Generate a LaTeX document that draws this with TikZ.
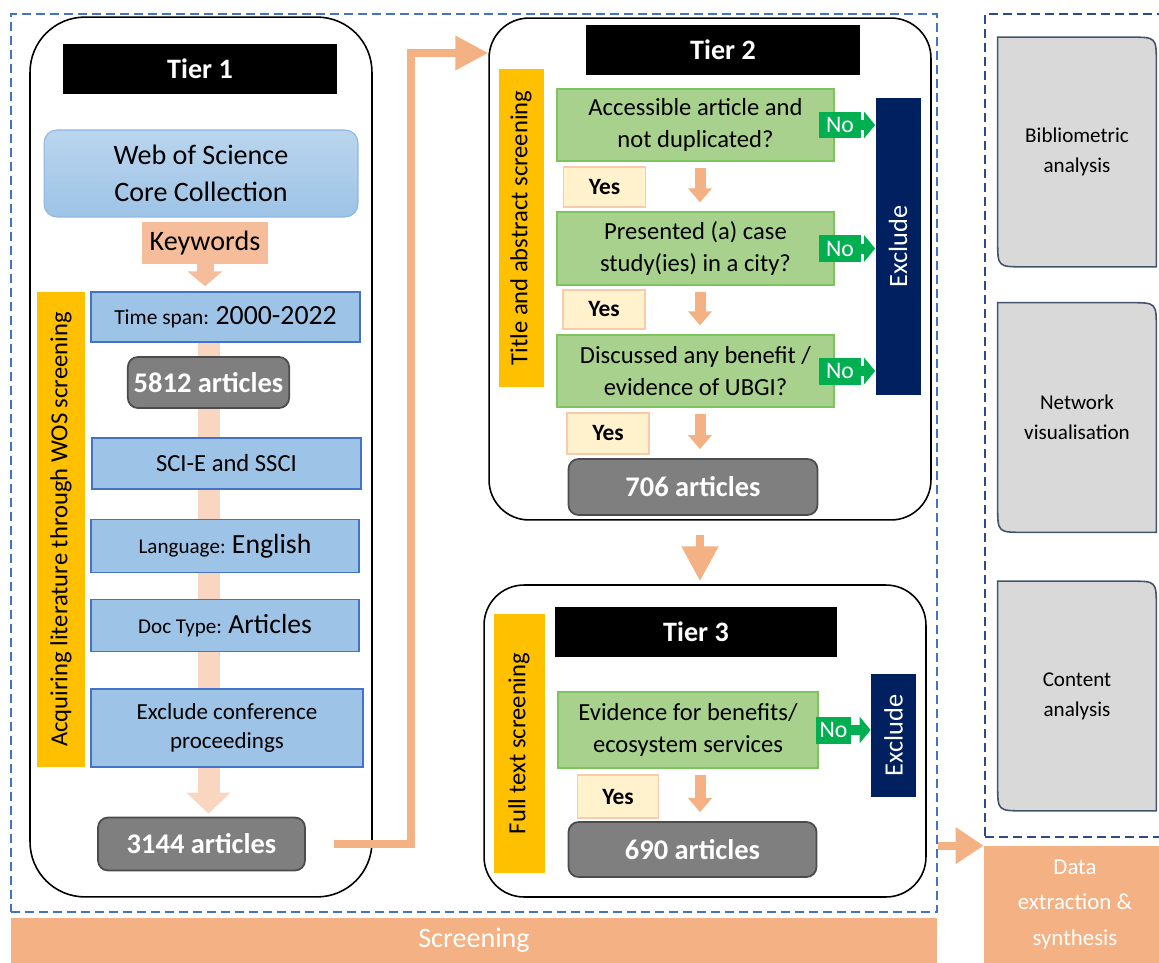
\documentclass[tikz,border=0pt]{standalone}
\usepackage{fontspec}
\setmainfont{Carlito}
\usetikzlibrary{arrows.meta,backgrounds,calc}
\definecolor{peach}{HTML}{F4B183}
\definecolor{bandPeach}{HTML}{F9D6BF}
\definecolor{kwPeach}{HTML}{F6BD9A}
\definecolor{filterBlue}{HTML}{9DC3E6}
\definecolor{filterLine}{HTML}{4472C4}
\definecolor{wosLine}{HTML}{8DB6E2}
\definecolor{barYellow}{HTML}{FFC000}
\definecolor{qGreen}{HTML}{A9D18E}
\definecolor{qLine}{HTML}{7CC55E}
\definecolor{noGreen}{HTML}{00B050}
\definecolor{navy}{HTML}{002060}
\definecolor{yesFill}{HTML}{FFF2CC}
\definecolor{yesLine}{HTML}{F8CBAD}
\definecolor{countGrey}{HTML}{7F7F7F}
\definecolor{anaGrey}{HTML}{D9D9D9}
\definecolor{anaLine}{HTML}{44546A}
\definecolor{screenDash}{HTML}{4472C4}
\definecolor{extractDash}{HTML}{2E4A8C}

\begin{document}
\begin{tikzpicture}[x=0.02cm, y=-0.02cm,
    tierframe/.style={draw, line width=0.9pt, rounded corners=0.8cm, inner sep=0pt},
    tierhead/.style={fill=black, text=white, minimum width=5.48cm, minimum height=1cm, font=\fontsize{16}{19}\selectfont\bfseries},
    filterbox/.style={fill=filterBlue, draw=filterLine, line width=0.8pt, minimum width=5.38cm, minimum height=1.02cm, align=center, font=\fontsize{14}{17}\selectfont},
    countbox/.style={fill=countGrey, draw=black!70, line width=1pt, rounded corners=0.2cm, text=white, font=\fontsize{16.2}{19}\selectfont\bfseries},
    sidebar/.style={fill=barYellow, rotate=90, inner sep=0pt, font=\fontsize{14}{17}\selectfont},
    question/.style={fill=qGreen, draw=qLine, line width=0.7pt, align=center, font=\fontsize{14}{18}\selectfont},
    yesbox/.style={fill=yesFill, draw=yesLine, line width=0.7pt, font=\fontsize{13.3}{16}\selectfont\bfseries},
    nobox/.style={fill=noGreen, text=white, anchor=west, inner sep=0pt, minimum height=0.54cm, font=\fontsize{13.5}{16}\selectfont},
    noarrow/.style={draw=noGreen, line width=0.2cm, -{Triangle[width=0.52cm,length=0.22cm]}},
    excludebar/.style={fill=navy, text=white, rotate=90, inner sep=0pt, minimum height=0.9cm, font=\fontsize{15}{18}\selectfont},
    stepdown/.style={draw=peach, line width=0.22cm, -{Triangle[width=0.46cm,length=0.28cm]}, shorten <=0.12cm, shorten >=0.18cm},
    flowline/.style={draw=peach, line width=0.15cm},
    framedash/.style={line width=1.2pt, dash pattern=on 0.18cm off 0.1cm},
    anabox/.style={minimum width=3.16cm, minimum height=4.58cm, align=center, font=\fontsize{12}{17}\selectfont},
    anashape/.style={fill=anaGrey, draw=anaLine, line width=0.9pt}
  ]
  \useasboundingbox (0,0) rectangle (1159,963);

  % outer frames
  \node[framedash, draw=screenDash, minimum width=18.52cm, minimum height=17.96cm] (screen) at (474,463) {};
  \node[framedash, draw=extractDash, minimum width=3.8cm, minimum height=16.46cm] (extract) at (1080,425.5) {};
  \node[fill=peach, text=white, inner sep=0pt, minimum width=18.52cm, minimum height=0.9cm, font=\fontsize{16}{19}\selectfont] (scrbar) at (474,940.5) {Screening};
  \node[fill=peach, text=white, inner sep=0pt, minimum width=3.64cm, minimum height=2.34cm, align=center, font=\fontsize{13}{20.4}\selectfont] (data) at (1075,904.5) {Data\\extraction \&\\synthesis};

  % Tier 1
  \node[tierframe, rounded corners=1.1cm, minimum width=6.84cm, minimum height=17.6cm] (tier1) at (201,457) {};
  \node[tierhead] (t1head) at (200,69) {Tier 1};
  \node[draw=wosLine, line width=0.6pt, top color=filterBlue!70!white, bottom color=filterBlue, rounded corners=0.26cm, minimum width=6.28cm, minimum height=1.74cm, align=center, font=\fontsize{16}{21}\selectfont] (wos) at (201,173.5) {Web of Science\\Core Collection};
  \node[fill=kwPeach, minimum width=2.52cm, minimum height=0.84cm, inner sep=0pt, font=\fontsize{16}{19}\selectfont] (kw) at (205,243) {Keywords};
  \node[sidebar, minimum width=9.5cm, minimum height=0.96cm] (acq) at (61,529.5) {Acquiring literature through WOS screening};
  \node[filterbox, minimum height=1cm, font=\fontsize{12.2}{15}\selectfont] (span) at (225.5,317) {Time span: {\fontsize{15.8}{19}\selectfont 2000-2022}};
  \node[countbox, minimum width=3.22cm, minimum height=1.02cm] (n5812) at (208.5,382.5) {5812 articles};
  \node[filterbox] (sci) at (226.5,463.5) {SCI-E and SSCI};
  \node[filterbox, minimum width=5.36cm, minimum height=1.06cm, font=\fontsize{12}{15}\selectfont] (lang) at (225,546) {Language: {\fontsize{15.8}{19}\selectfont English}};
  \node[filterbox, minimum width=5.36cm, minimum height=1.03cm, font=\fontsize{12}{15}\selectfont] (doc) at (225,625.5) {Doc Type: {\fontsize{15.7}{19}\selectfont Articles}};
  \node[filterbox, minimum width=5.44cm, minimum height=1.56cm, font=\fontsize{13.1}{17}\selectfont] (conf) at (227,728) {Exclude conference\\proceedings};
  \node[countbox, minimum width=4.14cm, minimum height=1.06cm] (n3144) at (201.5,844) {3144 articles};
  \draw[draw=kwPeach, line width=0.34cm, -{Triangle[width=0.68cm,length=0.3cm]}] (kw.south) -- ($(kw.south |- span.north)+(0,-5)$);
  \begin{scope}[on background layer]
    \draw[draw=bandPeach, line width=0.44cm, -{Triangle[width=0.86cm,length=0.42cm]}] (n5812 |- span.south) -- ($(n5812 |- n3144.north)+(0,-3)$);
  \end{scope}

  % Tier 2
  \node[tierframe, minimum width=8.84cm, minimum height=10.04cm] (tier2) at (710,269) {};
  \node[tierhead] (t2head) at (723,50) {Tier 2};
  \node[sidebar, minimum width=6.36cm, minimum height=0.9cm] (tas) at (521,228) {Title and abstract screening};
  \node[question, minimum width=5.54cm, minimum height=1.44cm] (q1) at (695.5,125) {Accessible article and\\not duplicated?};
  \node[question, minimum width=5.54cm, minimum height=1.46cm] (q2) at (695.5,248.5) {Presented (a) case\\study(ies) in a city?};
  \node[question, minimum width=5.54cm, minimum height=1.44cm] (q3) at (695.5,371) {Discussed any benefit /\\evidence of UBGI?};
  \node[excludebar, minimum width=5.94cm] (excl2) at (898,246.5) {Exclude};
  \node[yesbox, minimum width=1.64cm, minimum height=0.8cm] (y1) at (604.5,187) {Yes};
  \node[yesbox, minimum width=1.64cm, minimum height=0.78cm] (y2) at (604,309.5) {Yes};
  \node[yesbox, minimum width=1.64cm, minimum height=0.82cm] (y3) at (608,433.5) {Yes};
  \node[countbox, minimum width=4.98cm, minimum height=1.12cm] (n706) at (693,487) {706 articles};
  \coordinate (axis) at (700,0);
  % the rotated bars have their north anchor on the left side
  \foreach \i in {1,2,3} {
    \node[nobox, minimum width=0.84cm] (no\i) at ([xshift=-0.32cm]q\i.east) {No};
    \draw[noarrow] (no\i.east) -- (excl2.north |- no\i.east);
  }
  \draw[stepdown] (q1.south -| axis) -- (q2.north -| axis);
  \draw[stepdown] (q2.south -| axis) -- (q3.north -| axis);
  \draw[stepdown] (q3.south -| axis) -- (n706.north -| axis);

  % Tier 3
  \node[tierframe, minimum width=8.84cm, minimum height=6.24cm] (tier3) at (705,741) {};
  \node[tierhead, minimum width=5.64cm] (t3head) at (696,632) {Tier 3};
  \node[sidebar, minimum width=5.18cm, minimum height=1.02cm] (fts) at (519,743.5) {Full text screening};
  \node[question, minimum width=5.2cm, minimum height=1.52cm] (q4) at (688,730) {Evidence for benefits/\\ecosystem services};
  \node[excludebar, minimum width=2.46cm] (excl3) at (893.5,735.5) {Exclude};
  \node[yesbox, minimum width=1.62cm, minimum height=0.86cm] (y4) at (618,796.5) {Yes};
  \node[countbox, minimum width=4.96cm, minimum height=1.1cm] (n690) at (692.5,849.5) {690 articles};
  \node[nobox, minimum width=0.7cm] (no4) at ([xshift=-0.06cm]q4.east) {No};
  \draw[noarrow] (no4.east) -- (excl3.north |- no4.east);
  \draw[stepdown] (q4.south -| axis) -- (n690.north -| axis);

  % data extraction and synthesis
  \foreach \nm/\yy/\txt in {biblio/152/{Bibliometric\\analysis}, netvis/417.5/{Network\\visualisation}, content/696/{Content\\analysis}} {
    \node[anabox] (\nm) at (1077,\yy) {\txt};
    \begin{scope}[on background layer]
      \draw[anashape] (\nm.north west) -- ($(\nm.north east)+(-26,0)$) .. controls (\nm.north east) .. ($(\nm.north east)+(0,26)$)
        -- (\nm.south east) -- ($(\nm.south west)+(26,0)$) .. controls (\nm.south west) .. ($(\nm.south west)+(0,-26)$) -- cycle;
    \end{scope}
  }

  % connectors between stages
  \coordinate (bend) at (411,53);
  \draw[flowline, -{Triangle[width=0.66cm,length=0.66cm]}] ([xshift=0.56cm]n3144.east) -| (bend) -- (tier2.west |- bend);
  \draw[draw=peach, line width=0.16cm, -{Triangle[width=0.7cm,length=0.7cm]}, shorten <=0.28cm, shorten >=0.06cm] (tier2.south -| axis) -- (tier3.north -| axis);
  \draw[draw=peach, line width=0.16cm, -{Triangle[width=0.7cm,length=0.56cm]}] (screen.east |- data.north) -- (data.north west);
\end{tikzpicture}
\end{document}
